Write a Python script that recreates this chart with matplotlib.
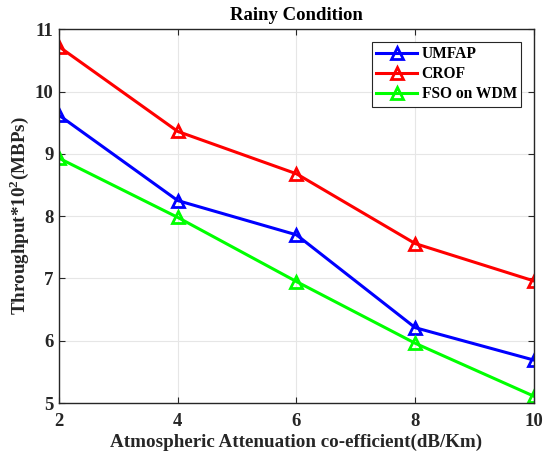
import numpy as np
from matplotlib import pyplot as plt

plt.rcParams['font.family'] = ['Liberation Serif', 'DejaVu Serif']
plt.rcParams['font.weight'] = 'bold'
plt.rcParams['mathtext.fontset'] = 'custom'
plt.rcParams['mathtext.rm'] = 'Liberation Serif:bold'

atten = [2, 4, 6, 8, 10]
umfap = [9.62, 8.25, 7.70, 6.21, 5.69]
crof = [10.72, 9.36, 8.68, 7.56, 6.96]
fso_wdm = [8.93, 7.98, 6.95, 5.96, 5.11]

fig = plt.figure(figsize=(5.44, 4.57), dpi=100)
ax = fig.add_axes([0.1085, 0.118, 0.873, 0.818])

style = dict(marker='^', markersize=9, markerfacecolor='none', markeredgewidth=2, linewidth=2.2)
ax.plot(atten, umfap, color='blue', label='UMFAP', **style)
ax.plot(atten, crof, color='red', label='CROF', **style)
ax.plot(atten, fso_wdm, color='#00ff00', label='FSO on WDM', **style)

ax.set_xlim(2, 10)
ax.set_ylim(5, 11)
ax.set_xticks([2, 4, 6, 8, 10])
ax.set_yticks([5, 6, 7, 8, 9, 10, 11])
ax.grid(True, color='#e6e6e6', linewidth=0.8)
ax.set_axisbelow(True)
ax.tick_params(direction='in', top=True, right=True, labelsize=13.5, colors='#262626', length=4)
ax.tick_params(axis='x', pad=7)
ax.tick_params(axis='y', pad=4)
for s in ax.spines.values():
    s.set_color('#262626')
    s.set_linewidth(1.0)

ax.set_xlabel('Atmospheric Attenuation co-efficient(dB/Km)', fontsize=13.7, fontweight='bold', color='#262626', labelpad=3)
ax.set_ylabel(r'Throughput*10$^{2}$(MBPs)', fontsize=13.7, fontweight='bold', color='#262626', labelpad=3)
ax.set_title('Rainy Condition', fontsize=13.5, fontweight='bold', color='black', pad=7)

leg = ax.legend(loc='upper right', fontsize=11.2, fancybox=False, edgecolor='#262626',
                framealpha=1, borderaxespad=0.8, handlelength=2.6, handletextpad=0.3,
                labelspacing=0.25, borderpad=0.3)
leg.get_frame().set_linewidth(0.8)

fig.savefig('out.png', dpi=100)
